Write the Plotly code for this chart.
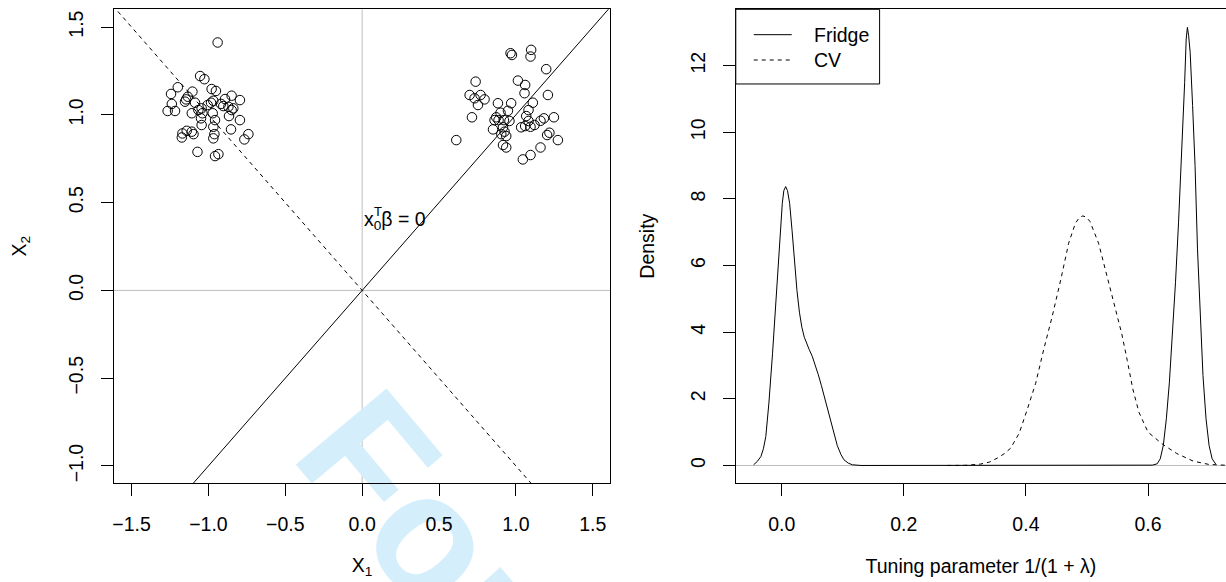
import plotly.graph_objects as go

# ---- left panel: two clusters of observations in (X1, X2) ----
left_x1 = [-0.940, -1.054, -1.026, -1.199, -1.104, -0.979, -0.951, -1.243, -1.145, -1.134,
           -0.849, -0.795, -0.892, -0.968, -1.238, -1.152, -1.087, -0.918, -0.903, -0.870,
           -0.838, -1.005, -0.983, -1.265, -1.217, -1.065, -1.044, -1.039, -1.108, -0.972,
           -0.849, -0.866, -1.048, -0.957, -0.795, -1.044, -0.968, -0.853, -1.141, -1.108,
           -1.169, -1.097, -0.961, -0.740, -1.173, -0.968, -0.766, -1.071, -0.957, -0.935]
left_x2 = [1.412, 1.221, 1.203, 1.157, 1.132, 1.147, 1.136, 1.119, 1.088, 1.103,
           1.109, 1.084, 1.090, 1.080, 1.062, 1.075, 1.069, 1.062, 1.050, 1.046,
           1.037, 1.056, 1.069, 1.022, 1.022, 1.027, 1.037, 1.009, 1.009, 1.009,
           1.027, 0.993, 0.980, 0.970, 0.970, 0.942, 0.932, 0.917, 0.909, 0.904,
           0.894, 0.890, 0.890, 0.890, 0.871, 0.866, 0.860, 0.789, 0.765, 0.776]

right_x1 = [0.965, 0.974, 1.099, 1.095, 1.197, 0.738, 1.013, 1.060, 0.699, 0.731,
            0.770, 0.796, 0.753, 1.056, 1.208, 0.883, 0.969, 1.110, 0.948, 0.900,
            1.082, 0.714, 0.872, 0.887, 0.922, 0.958, 1.067, 1.082, 1.160, 1.182,
            1.247, 0.851, 0.916, 0.926, 0.905, 0.937, 1.034, 1.060, 1.095, 1.121,
            1.218, 1.203, 1.273, 0.612, 0.916, 0.937, 1.160, 1.095, 1.045, 0.861]
right_x2 = [1.351, 1.341, 1.370, 1.332, 1.260, 1.189, 1.195, 1.170, 1.113, 1.094,
            1.113, 1.088, 1.056, 1.123, 1.113, 1.066, 1.066, 1.069, 1.023, 1.012,
            1.027, 0.986, 0.986, 0.970, 0.970, 0.965, 0.993, 0.965, 0.966, 0.980,
            0.986, 0.917, 0.929, 0.904, 0.890, 0.879, 0.929, 0.936, 0.932, 0.942,
            0.898, 0.885, 0.856, 0.856, 0.828, 0.814, 0.814, 0.771, 0.746, 0.970]

# reference directions through the origin: decision boundary and its normal
boundary_slope = 1.0
normal_slope = -1.0
line_x1 = [-2.0, 2.0]

# ---- right panel: density of the selected tuning parameter ----
fridge_t = [-0.046, -0.040, -0.034, -0.030, -0.026, -0.021, -0.015, -0.010, -0.004, 0.001,
            0.0035, 0.0065, 0.0095, 0.013, 0.017, 0.021, 0.025, 0.029, 0.033, 0.037,
            0.041, 0.045, 0.050, 0.055, 0.060, 0.065, 0.070, 0.075, 0.080, 0.086,
            0.091, 0.097, 0.102, 0.109, 0.116, 0.130, 0.600, 0.607, 0.615, 0.620,
            0.625, 0.630, 0.635, 0.640, 0.645, 0.650, 0.655, 0.660, 0.6625, 0.6645,
            0.6665, 0.669, 0.673, 0.677, 0.681, 0.685, 0.690, 0.695, 0.700, 0.705, 0.711]
fridge_density = [0.02, 0.12, 0.27, 0.50, 0.87, 1.87, 3.37, 4.87, 6.37, 7.87,
                  8.25, 8.37, 8.25, 7.87, 7.05, 6.10, 5.25, 4.60, 4.15, 3.85,
                  3.65, 3.48, 3.28, 3.02, 2.72, 2.40, 2.05, 1.68, 1.30, 0.92,
                  0.60, 0.33, 0.17, 0.07, 0.02, 0.0, 0.0, 0.01, 0.05, 0.20,
                  0.60, 1.40, 2.50, 3.90, 5.50, 7.30, 9.30, 11.50, 12.80, 13.15,
                  12.90, 12.40, 10.80, 9.00, 6.50, 4.60, 2.70, 1.40, 0.60, 0.20, 0.04]

cv_t = [0.271, 0.300, 0.325, 0.340, 0.353, 0.365, 0.375, 0.389, 0.402, 0.416,
        0.429, 0.443, 0.457, 0.470, 0.481, 0.488, 0.4934, 0.499, 0.505, 0.519,
        0.533, 0.547, 0.557, 0.566, 0.575, 0.585, 0.600, 0.625, 0.647, 0.674,
        0.700, 0.730, 0.760]
cv_density = [0.0, 0.003, 0.04, 0.10, 0.22, 0.36, 0.52, 0.97, 1.67, 2.47,
              3.47, 4.47, 5.57, 6.67, 7.27, 7.45, 7.49, 7.45, 7.32, 6.67,
              5.67, 4.67, 3.95, 3.15, 2.30, 1.60, 1.00, 0.62, 0.36, 0.13,
              0.03, 0.005, 0.0]

series_names = ["Fridge", "CV"]

x1_ticks = [-1.5, -1.0, -0.5, 0.0, 0.5, 1.0, 1.5]
x2_ticks = [-1.0, -0.5, 0.0, 0.5, 1.0, 1.5]
tune_ticks = [0.0, 0.2, 0.4, 0.6]
dens_ticks = [0, 2, 4, 6, 8, 10, 12]

FONT = "Liberation Sans, Arial, Helvetica, sans-serif"
FS = 19.5
GRAY = "#bebebe"

fig = go.Figure()

pt_style = dict(mode="markers", showlegend=False,
                marker=dict(symbol="circle-open", size=9.5, color="black",
                            line=dict(width=1, color="black")))
fig.add_trace(go.Scatter(x=left_x1, y=left_x2, xaxis="x", yaxis="y", **pt_style))
fig.add_trace(go.Scatter(x=right_x1, y=right_x2, xaxis="x", yaxis="y", **pt_style))

fig.add_trace(go.Scatter(x=line_x1, y=[boundary_slope * v for v in line_x1],
                         xaxis="x", yaxis="y", mode="lines", showlegend=False,
                         line=dict(color="black", width=1)))
fig.add_trace(go.Scatter(x=line_x1, y=[normal_slope * v for v in line_x1],
                         xaxis="x", yaxis="y", mode="lines", showlegend=False,
                         line=dict(color="black", width=1, dash="4px,4px")))

fig.add_trace(go.Scatter(x=fridge_t, y=fridge_density, xaxis="x2", yaxis="y2",
                         mode="lines", name=series_names[0], showlegend=False,
                         line=dict(color="black", width=1)))
fig.add_trace(go.Scatter(x=cv_t, y=cv_density, xaxis="x2", yaxis="y2",
                         mode="lines", name=series_names[1], showlegend=False,
                         line=dict(color="black", width=1, dash="4px,4px")))

axis_common = dict(showgrid=False, zeroline=False, showline=True, linecolor="black",
                   linewidth=1, ticks="outside", ticklen=12, tickwidth=1,
                   tickcolor="black", tickfont=dict(family=FONT, size=FS, color="black"),
                   title_font=dict(family=FONT, size=FS, color="black"))

ydom = [0.1701, 0.9840]

fig.update_layout(
    width=1226, height=582,
    margin=dict(l=0, r=0, t=0, b=0),
    paper_bgcolor="white", plot_bgcolor="rgba(0,0,0,0)",
    font=dict(family=FONT, size=FS, color="black"),
    xaxis=dict(domain=[0.0915, 0.4970], range=[-1.614, 1.614], anchor="y",
               tickvals=x1_ticks, tickformat=".1f", mirror=True,
               ticklabelstandoff=12,
               title=dict(text="X<sub>1</sub>", standoff=23), **axis_common),
    yaxis=dict(domain=ydom, range=[-1.097, 1.601], anchor="x",
               tickvals=x2_ticks, tickformat=".1f", tickangle=-90, mirror=True,
               ticklabelstandoff=10,
               title=dict(text="X<sub>2</sub>", standoff=33), **axis_common),
    xaxis2=dict(domain=[0.5995, 1.0], range=[-0.0752, 0.7277], anchor="y2",
                tickvals=tune_ticks, tickformat=".1f", mirror=True,
                ticklabelstandoff=12,
                title=dict(text="Tuning parameter 1/(1 + λ)", standoff=24), **axis_common),
    yaxis2=dict(domain=ydom, range=[-0.526, 13.69], anchor="x2",
                tickvals=dens_ticks, tickangle=-90, ticklabelstandoff=10,
                title=dict(text="Density", standoff=27), **axis_common),
)

# reference lines at zero
fig.add_shape(type="line", xref="x", yref="y domain", x0=0, x1=0, y0=0, y1=1,
              line=dict(color=GRAY, width=1), layer="below")
fig.add_shape(type="line", xref="x domain", yref="y", x0=0, x1=1, y0=0, y1=0,
              line=dict(color=GRAY, width=1), layer="below")
fig.add_shape(type="line", xref="x2 domain", yref="y2", x0=0, x1=1, y0=0, y1=0,
              line=dict(color=GRAY, width=1), layer="below")

# boundary label x_0^T beta = 0, with the transpose mark stacked over the subscript
fig.add_annotation(x=0.0, y=0.4, xref="x", yref="y", xanchor="left", yanchor="middle",
                   text="x<sub>0</sub>β = 0", showarrow=False,
                   font=dict(family=FONT, size=FS, color="black"))
fig.add_annotation(x=0.0, y=0.4, xref="x", yref="y", xanchor="left", yanchor="middle",
                   xshift=10, yshift=9, text="T", showarrow=False,
                   font=dict(family=FONT, size=13, color="black"))

# legend box drawn in the corner of the density panel
leg_left, leg_top, leg_right, leg_bottom = 0.5995, 0.9840, 0.7170, 0.8557
fig.add_shape(type="rect", xref="paper", yref="paper", x0=leg_left, x1=leg_right,
              y0=leg_bottom, y1=leg_top, line=dict(color="black", width=1),
              fillcolor="white")
leg_rows = [0.9404, 0.8969]
leg_dash = ["solid", "4px,4px"]
for name, row, dash in zip(series_names, leg_rows, leg_dash):
    fig.add_shape(type="line", xref="paper", yref="paper", x0=0.6142, x1=0.6452,
                  y0=row, y1=row, line=dict(color="black", width=1, dash=dash))
    fig.add_annotation(x=0.6615, y=row, xref="paper", yref="paper", xanchor="left",
                       yanchor="middle", text=name, showarrow=False,
                       font=dict(family=FONT, size=FS, color="black"))

# diagonal watermark behind the plots
fig.add_shape(type="rect", xref="paper", yref="paper", x0=0.613, x1=0.653,
              y0=-0.605, y1=-0.555, line=dict(width=0), fillcolor="rgba(0,0,0,0)",
              layer="below",
              label=dict(text="<b>For Peer Review</b>", textangle=50,
                         textposition="middle center",
                         font=dict(family=FONT, size=172, color="#d4eefb")))

fig.write_html("out.html")
